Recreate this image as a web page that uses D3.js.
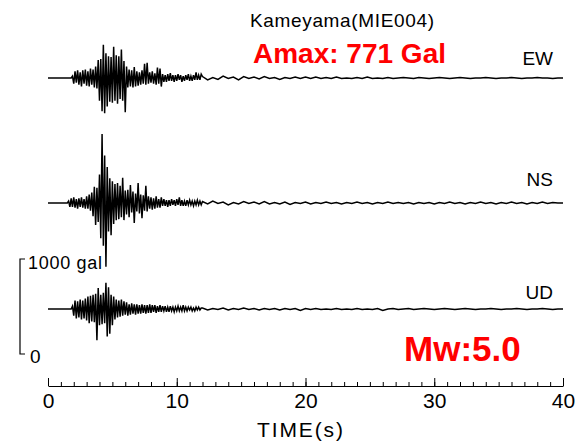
<!DOCTYPE html>
<html>
<head>
<meta charset="utf-8">
<script src="https://cdn.jsdelivr.net/npm/d3@7"></script>
<style>
  body { margin: 0; background: #fff; }
  text { font-family: "Liberation Sans", Arial, sans-serif; }
</style>
</head>
<body>
<div id="body"></div>
<script>
// sampling of the records (seconds)
var mainStart = 1.5, mainStep = 0.1;   // strong motion part
var codaStart = 12.0, codaStep = 0.4;  // tail

var components = ['EW', 'NS', 'UD'];

// acceleration, gal
var ewMain = [0, 0, 0, 0,
  20, -60, 70, -50, 80, -70, 60, -90, 80, -60,
  90, -80, 70, -90, 100, -70, 90, -100, 120, -110,
  190, -240, 200, -350, 350, -370, 260, -300, 230, -250,
  220, -260, 330, -240, 240, -270, 230, -220, 300, -240,
  180, -360, 120, -100, 90, -90, 80, -100, 115, -90,
  70, -80, 60, -70, 80, -60, 150, -70, 160, -60,
  60, -50, 70, -60, 50, -70, 110, -60, 100, -90,
  40, -40, 30, -40, 40, -30, 50, -30, 30, -40,
  30, -30, 40, -20, 30, -40, 20, -30, 30, -20,
  40, -30, 20, -30, 30, -20, 60, -20, 30, -20,
  40];
var ewCoda = [15, -20, 5, -15, 20, -5, 10, -20, 15, -5,
  10, -10, 15, -5, 5, -15, 5, -5, 10, -5,
  10, -5, 10, -5, 5, -5, 10, -5, 0, -5,
  5, -5, 10, -5, 0, -5, 5, -5, 0, 5,
  0, -5, 5, 0, -5, 0, 5, 0, -5, 0,
  5, 0, -5, 0, 0, 5, 0, -5, 0, 0,
  5, 0, -5, 0, 0, 5, 0, 0, -5, 0, 0];

var nsMain = [0, 20, -40, 50, -40, 60, -50, 40, -60, 50,
  -40, 60, -50, 40, -60, 70, -60, 90, -80, 110,
  -140, 170, -230, 160, -200, 300, -370, 725, -450, 500,
  -670, 380, -300, 260, -340, 230, -220, 200, -180, 210,
  -170, 180, -150, 265, -180, 130, -120, 140, -150, 190,
  -100, 120, -210, 100, -90, 210, -110, 90, -160, 80,
  -80, 180, -90, 70, -60, 60, -70, 50, -60, 70,
  -50, 40, -50, 60, -30, 40, -30, 30, -40, 30,
  -30, 40, -20, 30, -30, 40, -20, 60, -30, 30,
  -30, 20, -30, 30, -20, 30, -20, 20, -30, 20,
  -20, 30, -20, 20, -20];
var nsCoda = [15, -10, 20, -5, 10, -20, 5, -10, 15, -5,
  10, -10, 15, -10, 5, -10, 10, -15, 5, -5,
  10, -10, 5, -5, 10, -5, 5, -10, 5, -5,
  10, -5, 5, -10, 5, -5, 10, -5, 5, -5,
  5, -10, 5, -5, 5, -10, 5, -5, 10, -5,
  5, -10, 5, -5, 10, -5, 5, -10, 5, -5,
  10, -5, 5, -10, 5, -5, 10, -5, 5, 0, 0];

var udMain = [0, 0, 0, 0,
  30, -70, 90, -100, 80, -90, 100, -110, 90, -100,
  110, -120, 130, -150, 140, -130, 150, -140, 160, -330,
  220, -170, 150, -160, 170, -150, 275, -290, 230, -260,
  150, -170, 130, -110, 100, -90, 90, -80, 100, -70,
  80, -60, 70, -70, 50, -60, 60, -50, 50, -60,
  50, -50, 40, -50, 50, -40, 40, -50, 40, -40,
  50, -40, 40, -30, 40, -40, 30, -30, 40, -30,
  30, -20, 30, -30, 20, -30, 30, -20, 20, -30,
  20, -20, 30, -20, 20, -20, 40, -20, 20, -20,
  20, -10, 20, -20, 10, -20, 20, -10, 20, -10,
  10];
var udCoda = [10, -10, 5, -5, 10, -10, 5, -5, 10, -5,
  5, -10, 5, -5, 5, -10, 5, -5, 5, -15,
  5, -5, 5, -5, 0, -5, 5, -5, 0, -5,
  5, -5, 0, -5, 5, -15, 0, 5, -5, 0,
  5, -5, 0, 5, 0, -5, 0, 5, 0, -5,
  0, 5, 0, -5, 0, 0, 5, 0, -5, 0,
  0, 5, 0, -5, 0, 0, 5, 0, -5, 0, 0];

var timeTicks = [0, 10, 20, 30, 40];
var scaleBar = [0, 1000];

var records = {
  EW: { main: ewMain, coda: ewCoda },
  NS: { main: nsMain, coda: nsCoda },
  UD: { main: udMain, coda: udCoda }
};

var width = 582, height = 443;
var baselines = { EW: 78, NS: 203, UD: 309 };
var labelPos = { EW: 65, NS: 186, UD: 299 };
var galPx = 95; // pixels for 1000 gal

var svg = d3.select('#body')
  .append('svg')
  .attr('width', width)
  .attr('height', height)
  .style('background', '#fff');

var x = d3.scaleLinear().domain([0, 40]).range([48, 563]);

function toPoints (rec) {
  var pts = [{ t: 0, v: 0 }];
  rec.main.forEach(function (v, i) { pts.push({ t: mainStart + i * mainStep, v: v }); });
  rec.coda.forEach(function (v, i) { pts.push({ t: codaStart + i * codaStep, v: v }); });
  return pts;
}

// traces
components.forEach(function (c) {
  var base = baselines[c];
  var y = d3.scaleLinear().domain([-1000, 1000]).range([base + galPx, base - galPx]);
  var line = d3.line()
    .x(function (d) { return x(d.t); })
    .y(function (d) { return y(d.v); });

  svg.append('path')
    .datum(toPoints(records[c]))
    .attr('d', line)
    .attr('fill', 'none')
    .attr('stroke', '#000')
    .attr('stroke-width', 1.5);

  svg.append('text')
    .attr('x', 553)
    .attr('y', labelPos[c])
    .attr('text-anchor', 'end')
    .attr('font-size', '19px')
    .text(c);
});

// time axis, ticks pointing up
var axisY = 386;
svg.append('g')
  .attr('class', 'minor')
  .attr('transform', 'translate(0,' + axisY + ')')
  .call(d3.axisBottom(x).ticks(40).tickSizeInner(-4).tickSizeOuter(0).tickFormat(''))
  .call(function (g) { g.select('.domain').remove(); });

var axis = svg.append('g')
  .attr('transform', 'translate(0,' + axisY + ')')
  .call(d3.axisBottom(x).tickValues(timeTicks).tickSizeInner(-8).tickSizeOuter(0).tickPadding(7));
axis.selectAll('text')
  .attr('font-size', '21px')
  .attr('fill', '#000')
  .style('font-family', '"Liberation Sans", Arial, sans-serif');
svg.selectAll('.tick line, .domain').attr('stroke', '#000');

svg.append('text')
  .attr('x', 300)
  .attr('y', 437)
  .attr('text-anchor', 'middle')
  .attr('font-size', '21px')
  .attr('textLength', 86)
  .text('TIME(s)');

// amplitude scale bar
var sb = d3.scaleLinear().domain([0, 1000]).range([354, 354 - galPx]);
svg.append('path')
  .attr('d', 'M25,' + sb(scaleBar[1]) + 'H20V' + sb(scaleBar[0]) + 'H25')
  .attr('fill', 'none')
  .attr('stroke', '#000')
  .attr('stroke-width', 1.2);
svg.append('text')
  .attr('x', 28)
  .attr('y', sb(scaleBar[1]) + 10)
  .attr('font-size', '18px')
  .attr('textLength', 74)
  .text(scaleBar[1] + ' gal');
svg.append('text')
  .attr('x', 30)
  .attr('y', sb(scaleBar[0]) + 9)
  .attr('font-size', '19px')
  .text(scaleBar[0]);

// titles
svg.append('text')
  .attr('x', 342)
  .attr('y', 27)
  .attr('text-anchor', 'middle')
  .attr('font-size', '19px')
  .attr('textLength', 184)
  .text('Kameyama(MIE004)');

svg.append('text')
  .attr('x', 253)
  .attr('y', 63)
  .attr('font-size', '28px')
  .attr('font-weight', 'bold')
  .attr('fill', '#f00')
  .text('Amax: 771 Gal');

svg.append('text')
  .attr('x', 404)
  .attr('y', 361)
  .attr('font-size', '35px')
  .attr('font-weight', 'bold')
  .attr('fill', '#f00')
  .text('Mw:5.0');
</script>
</body>
</html>
